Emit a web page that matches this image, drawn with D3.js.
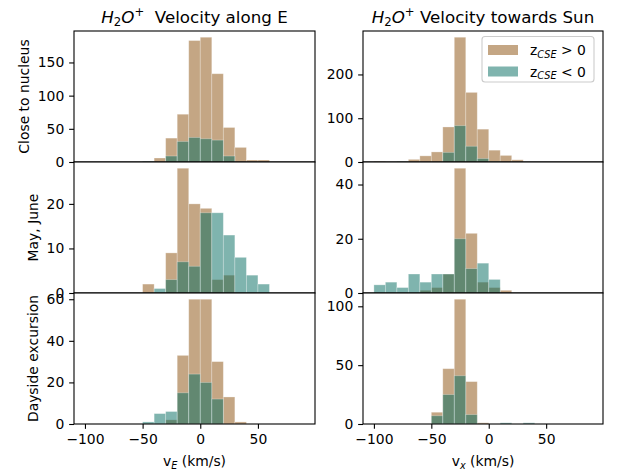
<!DOCTYPE html>
<html>
<head>
<meta charset="utf-8">
<script src="https://cdn.jsdelivr.net/npm/d3@7"></script>
<style>
  body { margin: 0; background: #fff; }
  svg { display: block; font-family: "DejaVu Sans", sans-serif; }
  text { white-space: pre; }
</style>
</head>
<body>
<div id="chart"></div>
<script>
'use strict';

// bins: 10 km/s wide, starting at -100
var binStarts = d3.range(-100, 90, 10);
var binWidth = 10;

// Velocity along E (left column), counts per bin
var eCloseUp   = [0,0,0,0,0,0,6,36,72,183,188,133,52,22,3,3,0,0,0];
var eCloseDown = [0,0,0,0,0,1,0,9,31,37,35,33,9,0,0,0,0,0,0];
var eMayUp     = [0,0,0,0,0,2,0,9,28,20,19,3,4,0,0,0,0,0,0];
var eMayDown   = [0,0,0,0,0,0,1,3,7,6,18,18,13,8,4,2,0,0,0];
var eDayUp     = [0,0,0,0,0,0,0,2,33,60,60,30,13,1,0,0,0,0,0];
var eDayDown   = [0,0,0,0,0,1,5,6,15,24,20,12,0,0,0,0,0,0,0];

// Velocity towards Sun (right column)
var xCloseUp   = [1,0,0,6,14,23,80,285,159,75,27,15,5,0,0,0,0,0,0];
var xCloseDown = [0,0,1,0,0,0,22,83,36,8,1,0,0,0,0,0,0,0,0];
var xMayUp     = [0,0,0,0,1,2,7,46,22,4,2,1,0,0,0,0,0,0,0];
var xMayDown   = [3,4,2,7,4,7,7,20,9,11,5,0,0,0,0,0,0,0,0];
var xDayUp     = [0,0,0,0,0,10,47,106,36,1,0,0,0,0,0,0,0,0,0];
var xDayDown   = [0,0,0,0,0,7,25,41,8,0,0,1,0,1,0,0,0,0,0];

var rowLabels = ['Close to nucleus', 'May, June', 'Dayside excursion'];
var yTicksE = [[0, 50, 100, 150], [0, 10, 20], [0, 20, 40, 60]];
var yTicksX = [[0, 100, 200], [0, 20, 40], [0, 50, 100]];
var xTicks = [-100, -50, 0, 50];

var W = 627, H = 474;
var FS = 13.9;
var colUp = 'rgb(137,77,9)';
var colDown = 'rgb(0,105,93)';
var alpha = 0.5;

var cols = [{ left: 74, right: 315 }, { left: 363, right: 603 }];
var rowTop = 31, rowH = 131;

var svg = d3.select('#chart').append('svg')
    .attr('width', W)
    .attr('height', H);

function panel (col, row, up, down, ticks, showX) {
    var x0 = cols[col].left, x1 = cols[col].right;
    var yTop = rowTop + row * rowH, yBot = yTop + rowH;
    var g = svg.append('g');

    g.append('rect')
        .attr('x', x0).attr('y', yTop)
        .attr('width', x1 - x0).attr('height', rowH)
        .attr('fill', '#fff');

    var xScale = d3.scaleLinear().domain([-109.5, 99.5]).range([x0, x1]);
    var yMax = d3.max(up.concat(down)) * 1.05;
    var yScale = d3.scaleLinear().domain([0, yMax]).range([yBot, yTop]);

    [[up, colUp], [down, colDown]].forEach(function (s) {
        g.append('g').selectAll('rect')
            .data(s[0].map(function (v, i) { return { x: binStarts[i], v: v }; })
                .filter(function (d) { return d.v > 0; }))
            .enter()
            .append('rect')
            .attr('x', function (d) { return xScale(d.x); })
            .attr('y', function (d) { return yScale(d.v); })
            .attr('width', function (d) { return xScale(d.x + binWidth) - xScale(d.x); })
            .attr('height', function (d) { return yBot - yScale(d.v); })
            .attr('fill', s[1])
            .attr('fill-opacity', alpha)
            .attr('stroke', '#fff')
            .attr('stroke-opacity', 0.35)
            .attr('stroke-width', 0.8);
    });

    var yAxis = g.append('g')
        .attr('transform', 'translate(' + x0 + ',0)')
        .call(d3.axisLeft(yScale).tickValues(ticks).tickSize(4.86).tickPadding(4.86).tickFormat(d3.format('d')));
    yAxis.select('.domain').remove();
    yAxis.selectAll('text').attr('font-size', FS).attr('font-family', 'DejaVu Sans').attr('fill', '#000');
    yAxis.selectAll('line').attr('stroke-width', 1.1);

    if (showX) {
        var xAxis = g.append('g')
            .attr('transform', 'translate(0,' + yBot + ')')
            .call(d3.axisBottom(xScale).tickValues(xTicks).tickSize(4.86).tickPadding(4.86)
                .tickFormat(function (d) { return d < 0 ? '\u2212' + Math.abs(d) : d; }));
        xAxis.select('.domain').remove();
        xAxis.selectAll('text').attr('font-size', FS).attr('font-family', 'DejaVu Sans').attr('fill', '#000');
        xAxis.selectAll('line').attr('stroke-width', 1.1);
    }

    g.append('rect')
        .attr('x', x0).attr('y', yTop)
        .attr('width', x1 - x0).attr('height', rowH)
        .attr('fill', 'none')
        .attr('stroke', '#000')
        .attr('stroke-width', 1.1);

    // row label on the left column only
    if (col === 0) {
        var tickLeft = d3.min(yAxis.selectAll('text').nodes(), function (n) { return n.getBBox().x; }) + x0;
        var lx = tickLeft - 5.6 - 3.3;
        var ly = (yTop + yBot) / 2;
        svg.append('text')
            .attr('transform', 'translate(' + lx + ',' + ly + ') rotate(-90)')
            .attr('text-anchor', 'middle')
            .attr('font-size', FS)
            .text(rowLabels[row]);
    }
    return xScale;
}

var ups = [[eCloseUp, eMayUp, eDayUp], [xCloseUp, xMayUp, xDayUp]];
var downs = [[eCloseDown, eMayDown, eDayDown], [xCloseDown, xMayDown, xDayDown]];
var tickSets = [yTicksE, yTicksX];

for (var c = 0; c < 2; c++) {
    for (var r = 0; r < 3; r++) {
        panel(c, r, ups[c][r], downs[c][r], tickSets[c][r], r === 2);
    }
}

// titles with H2O+ in math style
function title (cx, rest) {
    var t = svg.append('text')
        .attr('x', cx).attr('y', 22.7)
        .attr('text-anchor', 'middle')
        .attr('font-size', 16.7);
    t.append('tspan').attr('font-style', 'italic').text('H');
    t.append('tspan').attr('font-size', 11.7).attr('dy', 3.5).text('2');
    t.append('tspan').attr('font-style', 'italic').attr('dy', -3.5).text('O');
    t.append('tspan').attr('font-size', 11.7).attr('dy', -7).text('+');
    t.append('tspan').attr('dy', 7).text(rest);
}
title((cols[0].left + cols[0].right) / 2, '  Velocity along E');
title((cols[1].left + cols[1].right) / 2, ' Velocity towards Sun');

// x labels
function xLabel (cx, sub) {
    var t = svg.append('text')
        .attr('x', cx).attr('y', 466)
        .attr('text-anchor', 'middle')
        .attr('font-size', FS);
    t.append('tspan').text('v');
    t.append('tspan').attr('font-size', 9.7).attr('font-style', 'italic').attr('dy', 2.5).text(sub);
    t.append('tspan').attr('dy', -2.5).text(' (km/s)');
}
xLabel((cols[0].left + cols[0].right) / 2, 'E');
xLabel((cols[1].left + cols[1].right) / 2, 'x');

// legend
var legend = svg.append('g');
legend.append('rect')
    .attr('x', 482).attr('y', 36.5)
    .attr('width', 112).attr('height', 45.5)
    .attr('rx', 3)
    .attr('fill', '#fff').attr('fill-opacity', 0.8)
    .attr('stroke', '#ccc').attr('stroke-width', 1.1);

[['>', colUp], ['<', colDown]].forEach(function (d, i) {
    var y = 45 + i * 21.5;
    legend.append('rect')
        .attr('x', 488).attr('y', y)
        .attr('width', 30).attr('height', 10)
        .attr('fill', d[1]).attr('fill-opacity', alpha);
    var t = legend.append('text')
        .attr('x', 530).attr('y', y + 10)
        .attr('font-size', FS);
    t.append('tspan').text('z');
    t.append('tspan').attr('font-size', 9.7).attr('font-style', 'italic').attr('dy', 2.5).text('CSE');
    t.append('tspan').attr('dy', -2.5).text(' ' + d[0] + ' 0');
});
</script>
</body>
</html>
